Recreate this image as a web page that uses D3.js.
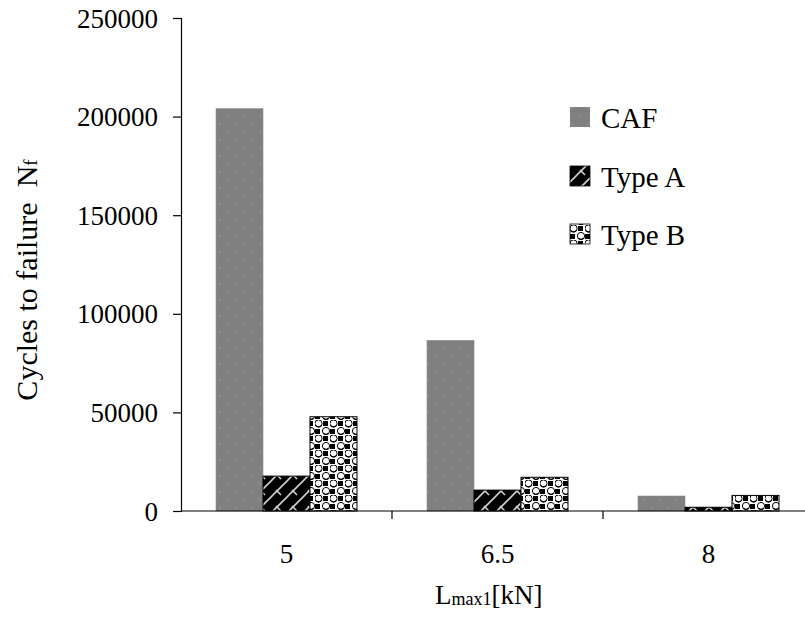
<!DOCTYPE html>
<html>
<head>
<meta charset="utf-8">
<script src="https://cdn.jsdelivr.net/npm/d3@7"></script>
<style>
  body { margin: 0; background: #fff; }
  text { font-family: "Liberation Serif", "Times New Roman", serif; fill: #000; }
</style>
</head>
<body>
<svg id="chart" width="805" height="617"></svg>
<script>
const categories = ["5", "6.5", "8"];
const seriesNames = ["CAF", "Type A", "Type B"];
const cafValues   = [204000, 86500, 7600];
const typeAValues = [17700, 10600, 1900];
const typeBValues = [47800, 17100, 7900];
const yTicks = [0, 50000, 100000, 150000, 200000, 250000];

const seriesValues = [cafValues, typeAValues, typeBValues];
const fills = ["url(#patCAF)", "url(#patA)", "url(#patB)"];
const strokes = ["#8a8a8a", "#000", "#000"];

const svg = d3.select("#chart");
const defs = svg.append("defs");

// CAF pattern: gray with faint light dots
const pC = defs.append("pattern").attr("id", "patCAF").attr("patternUnits", "userSpaceOnUse")
  .attr("width", 16).attr("height", 16);
pC.append("rect").attr("width", 16).attr("height", 16).attr("fill", "#808080");
pC.append("circle").attr("cx", 4).attr("cy", 4).attr("r", 1).attr("fill", "#939393");
pC.append("circle").attr("cx", 12).attr("cy", 12).attr("r", 1).attr("fill", "#939393");

// Type A: black with light diagonal brick lines
const pA = defs.append("pattern").attr("id", "patA").attr("patternUnits", "userSpaceOnUse")
  .attr("width", 16).attr("height", 16);
pA.append("rect").attr("width", 16).attr("height", 16).attr("fill", "#000");
pA.append("path").attr("d", "M-2,18 L18,-2 M-2,2 L2,-2 M14,18 L18,14")
  .attr("stroke", "#d0d0d0").attr("stroke-width", 1.6).attr("fill", "none");
pA.append("path").attr("d", "M4,10 L9,15")
  .attr("stroke", "#d0d0d0").attr("stroke-width", 1.6).attr("fill", "none");

// Type B: checker with white circles
const pB = defs.append("pattern").attr("id", "patB").attr("patternUnits", "userSpaceOnUse")
  .attr("width", 15).attr("height", 15);
pB.append("rect").attr("width", 15).attr("height", 15).attr("fill", "#fff");
pB.append("rect").attr("x", 0).attr("y", 9).attr("width", 5).attr("height", 5).attr("fill", "#000");
pB.append("rect").attr("x", 8).attr("y", 1).attr("width", 5).attr("height", 5).attr("fill", "#000");
pB.append("circle").attr("cx", 3.5).attr("cy", 3.5).attr("r", 3.6).attr("fill", "#fff").attr("stroke", "#000").attr("stroke-width", 1);
pB.append("circle").attr("cx", 11).attr("cy", 11).attr("r", 3.6).attr("fill", "#fff").attr("stroke", "#000").attr("stroke-width", 1);
pB.append("path").attr("d", "M1,5.5 A3,3 0 0 0 6,5.5 M8.5,13 A3,3 0 0 0 13.5,13").attr("stroke", "#000").attr("stroke-width", 1.2).attr("fill", "none");

const x = d3.scaleBand().domain(categories).range([181, 814]).padding(0);
const x1 = d3.scaleBand().domain(seriesNames).range([0, x.bandwidth()]).paddingInner(0).paddingOuter(0.745);
const y = d3.scaleLinear().domain([0, 250000]).range([511, 18]);

// bars
seriesNames.forEach((s, si) => {
  svg.append("g").selectAll("rect")
    .data(categories.map((c, ci) => ({ c, v: seriesValues[si][ci] })))
    .join("rect")
    .attr("x", d => x(d.c) + x1(s))
    .attr("y", d => y(d.v))
    .attr("width", x1.bandwidth())
    .attr("height", d => y(0) - y(d.v))
    .attr("fill", fills[si])
    .attr("stroke", strokes[si])
    .attr("stroke-width", si === 0 ? 0.6 : 1);
});

// y axis
const yAxis = svg.append("g").attr("transform", "translate(181,0)")
  .call(d3.axisLeft(y).tickValues(yTicks).tickFormat(d3.format("d")).tickSize(8).tickPadding(15));
yAxis.selectAll("text").style("font-size", "27px").attr("dy", "0.34em");
yAxis.selectAll("line, path").attr("stroke", "#000").attr("stroke-width", 1.2);

// x axis
const xAxis = svg.append("g").attr("transform", "translate(0,511)")
  .call(d3.axisBottom(x).tickSize(0).tickPadding(33));
xAxis.select("path").attr("d", "M181,0H814").attr("stroke", "#000").attr("stroke-width", 1.2);
xAxis.selectAll("text").style("font-size", "27px");
xAxis.selectAll("line.sep").data(categories.slice(0, -1)).join("line").attr("class", "sep")
  .attr("x1", d => x(d) + x.bandwidth()).attr("x2", d => x(d) + x.bandwidth())
  .attr("y1", 0).attr("y2", 8).attr("stroke", "#000").attr("stroke-width", 1.2);

// x label
const xl = svg.append("text").attr("x", 435).attr("y", 604).style("font-size", "27px");
xl.append("tspan").text("L");
xl.append("tspan").style("font-size", "18px").attr("dy", 1).text("max1");
xl.append("tspan").attr("dy", -1).text("[kN]");

// y label
const yl = svg.append("text").attr("transform", "translate(37,280) rotate(-90)")
  .attr("text-anchor", "middle").style("font-size", "30px");
yl.append("tspan").text("Cycles to failure\u00A0\u00A0N");
yl.append("tspan").style("font-size", "19px").text("f");

// legend
const leg = svg.append("g");
const legY = [107, 166, 224];
seriesNames.forEach((s, i) => {
  leg.append("rect").attr("x", 570).attr("y", legY[i]).attr("width", 20).attr("height", 20)
    .attr("fill", fills[i]).attr("stroke", i === 0 ? "none" : "#000").attr("stroke-width", 0.8);
  leg.append("text").attr("x", 601).attr("y", legY[i] + 21).style("font-size", "29px").text(s);
});
</script>
</body>
</html>
